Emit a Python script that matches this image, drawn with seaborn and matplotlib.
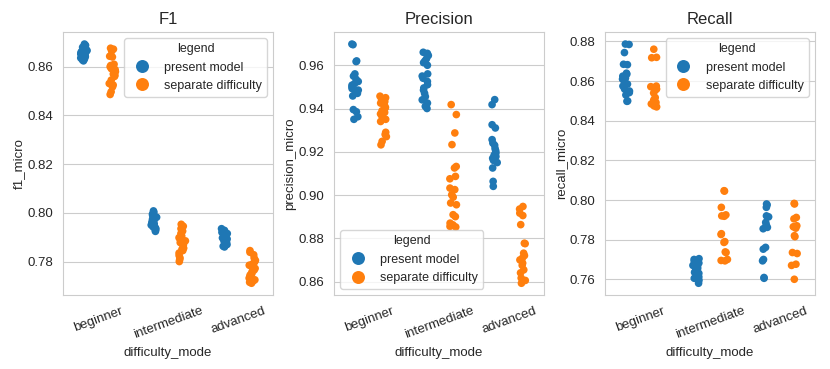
import numpy as np
import pandas as pd
import matplotlib.pyplot as plt
import seaborn as sns

# difficulty levels and the two compared models
modes = ["beginner", "intermediate", "advanced"]
models = ["present model", "separate difficulty"]

# f1_micro values per (model, difficulty)
f1_present_beg = [0.8693, 0.8688, 0.8680, 0.8672, 0.8668, 0.8665, 0.8662, 0.8660, 0.8657, 0.8655,
                  0.8652, 0.8650, 0.8648, 0.8645, 0.8642, 0.8640, 0.8636, 0.8632, 0.8628, 0.8624]
f1_separate_beg = [0.8676, 0.8672, 0.8664, 0.8643, 0.8640, 0.8610, 0.8605, 0.8600, 0.8592, 0.8588,
                   0.8580, 0.8570, 0.8565, 0.8560, 0.8545, 0.8531, 0.8525, 0.8517, 0.8497, 0.8486]
f1_present_int = [0.8008, 0.8002, 0.7995, 0.7990, 0.7986, 0.7982, 0.7978, 0.7975, 0.7970, 0.7966,
                  0.7962, 0.7958, 0.7955, 0.7950, 0.7946, 0.7942, 0.7938, 0.7933, 0.7928, 0.7924]
f1_separate_int = [0.7953, 0.7945, 0.7935, 0.7925, 0.7915, 0.7905, 0.7898, 0.7890, 0.7885, 0.7878,
                   0.7870, 0.7862, 0.7855, 0.7850, 0.7845, 0.7835, 0.7825, 0.7815, 0.7808, 0.7800]
f1_present_adv = [0.7935, 0.7928, 0.7920, 0.7915, 0.7910, 0.7905, 0.7900, 0.7897, 0.7893, 0.7890,
                  0.7887, 0.7884, 0.7880, 0.7877, 0.7874, 0.7870, 0.7866, 0.7863, 0.7860]
f1_separate_adv = [0.7845, 0.7838, 0.7828, 0.7815, 0.7805, 0.7798, 0.7790, 0.7785, 0.7778, 0.7772,
                   0.7765, 0.7758, 0.7750, 0.7745, 0.7738, 0.7732, 0.7725, 0.7720, 0.7715, 0.7711]

# precision_micro
prec_present_beg = [0.9698, 0.9695, 0.9620, 0.9617, 0.9560, 0.9550, 0.9535, 0.9525, 0.9515, 0.9508,
                    0.9500, 0.9492, 0.9485, 0.9478, 0.9470, 0.9458, 0.9395, 0.9385, 0.9362, 0.9350]
prec_separate_beg = [0.9457, 0.9450, 0.9440, 0.9432, 0.9425, 0.9415, 0.9405, 0.9398, 0.9390, 0.9382,
                     0.9375, 0.9368, 0.9360, 0.9350, 0.9340, 0.9290, 0.9280, 0.9270, 0.9248, 0.9232]
prec_present_int = [0.9660, 0.9655, 0.9645, 0.9630, 0.9620, 0.9612, 0.9600, 0.9560, 0.9550, 0.9540,
                    0.9525, 0.9510, 0.9495, 0.9485, 0.9470, 0.9455, 0.9440, 0.9425, 0.9410, 0.9400]
prec_separate_int = [0.9418, 0.9372, 0.9287, 0.9233, 0.9132, 0.9125, 0.9086, 0.9075, 0.9032, 0.9025,
                     0.9001, 0.8990, 0.8963, 0.8955, 0.8909, 0.8900, 0.8870, 0.8862, 0.8855, 0.8852]
prec_present_adv = [0.9441, 0.9418, 0.9325, 0.9310, 0.9256, 0.9240, 0.9230, 0.9215, 0.9205, 0.9195,
                    0.9185, 0.9178, 0.9170, 0.9160, 0.9150, 0.9125, 0.9063, 0.9040]
prec_separate_adv = [0.8947, 0.8935, 0.8916, 0.8905, 0.8863, 0.8777, 0.8775, 0.8731, 0.8720, 0.8708,
                     0.8700, 0.8685, 0.8675, 0.8654, 0.8640, 0.8616, 0.8605, 0.8592]

# recall_micro
rec_present_beg = [0.8787, 0.8785, 0.8744, 0.8685, 0.8683, 0.8640, 0.8635, 0.8625, 0.8615, 0.8610,
                   0.8600, 0.8585, 0.8575, 0.8560, 0.8550, 0.8542, 0.8530, 0.8500, 0.8498]
rec_separate_beg = [0.8761, 0.8720, 0.8718, 0.8575, 0.8572, 0.8560, 0.8555, 0.8540, 0.8517, 0.8505,
                    0.8492, 0.8485, 0.8475, 0.8470]
rec_present_int = [0.7704, 0.7700, 0.7690, 0.7682, 0.7675, 0.7670, 0.7665, 0.7660, 0.7655, 0.7650,
                   0.7645, 0.7640, 0.7635, 0.7630, 0.7625, 0.7620, 0.7612, 0.7605, 0.7595, 0.7580]
rec_separate_int = [0.8047, 0.8045, 0.7963, 0.7925, 0.7920, 0.7918, 0.7830, 0.7826, 0.7790, 0.7786,
                    0.7738, 0.7735, 0.7700, 0.7695, 0.7693]
rec_present_adv = [0.7980, 0.7975, 0.7963, 0.7920, 0.7915, 0.7887, 0.7875, 0.7862, 0.7855, 0.7761,
                   0.7752, 0.7700, 0.7693, 0.7609, 0.7605]
rec_separate_adv = [0.7983, 0.7980, 0.7912, 0.7905, 0.7870, 0.7865, 0.7858, 0.7820, 0.7815, 0.7735,
                    0.7730, 0.7676, 0.7670, 0.7600]


def make_df(metric, groups):
    rows = []
    for (model, mode), vals in groups.items():
        for v in vals:
            rows.append({"legend": model, "difficulty_mode": mode, metric: v})
    return pd.DataFrame(rows)


df_f1 = make_df("f1_micro", {
    ("present model", "beginner"): f1_present_beg, ("separate difficulty", "beginner"): f1_separate_beg,
    ("present model", "intermediate"): f1_present_int, ("separate difficulty", "intermediate"): f1_separate_int,
    ("present model", "advanced"): f1_present_adv, ("separate difficulty", "advanced"): f1_separate_adv,
})
df_prec = make_df("precision_micro", {
    ("present model", "beginner"): prec_present_beg, ("separate difficulty", "beginner"): prec_separate_beg,
    ("present model", "intermediate"): prec_present_int, ("separate difficulty", "intermediate"): prec_separate_int,
    ("present model", "advanced"): prec_present_adv, ("separate difficulty", "advanced"): prec_separate_adv,
})
df_rec = make_df("recall_micro", {
    ("present model", "beginner"): rec_present_beg, ("separate difficulty", "beginner"): rec_separate_beg,
    ("present model", "intermediate"): rec_present_int, ("separate difficulty", "intermediate"): rec_separate_int,
    ("present model", "advanced"): rec_present_adv, ("separate difficulty", "advanced"): rec_separate_adv,
})

sns.set_style("whitegrid")
plt.rcParams["font.family"] = ["Liberation Sans", "DejaVu Sans"]

np.random.seed(3)  # fixed jitter
fig, axes = plt.subplots(1, 3, figsize=(8.3, 3.69), dpi=100)
panels = [(df_f1, "f1_micro", "F1", "upper right"),
          (df_prec, "precision_micro", "Precision", "lower left"),
          (df_rec, "recall_micro", "Recall", "upper right")]

for ax, (d, col, title, loc) in zip(axes, panels):
    sns.stripplot(data=d, x="difficulty_mode", y=col, hue="legend", order=modes,
                  hue_order=models, dodge=True, size=5.5, ax=ax)
    ax.set_title(title, fontsize=12)
    ax.tick_params(axis="x", rotation=20, labelsize=9.5)
    ax.tick_params(axis="y", labelsize=9.5)
    ax.set_xlabel("difficulty_mode", fontsize=9.5)
    ax.set_ylabel(col, fontsize=9.5, labelpad=2)
    ax.legend(title="legend", loc=loc, fontsize=9, title_fontsize=9, markerscale=1.7)

plt.subplots_adjust(left=0.076, right=0.982, top=0.913, bottom=0.2, wspace=0.29)
plt.savefig("out.png")
